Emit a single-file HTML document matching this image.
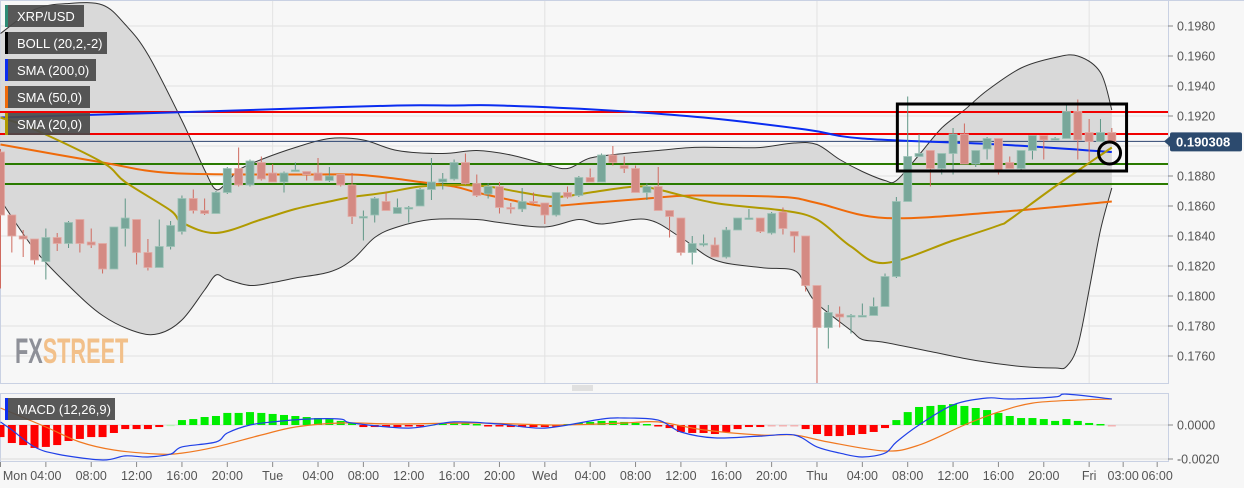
<!DOCTYPE html>
<html><head><meta charset="utf-8"><style>
html,body{margin:0;padding:0;background:#f7f7f7;}
svg{display:block;font-family:"Liberation Sans",Arial,sans-serif;}
</style></head><body>
<svg id="chart" width="1244" height="488" viewBox="0 0 1244 488">
<rect x="0" y="0" width="1244" height="488" fill="#f7f7f7"/>
<g id="grid"></g>
<g id="bands"></g>
<g id="levels"></g>
<g id="smas"></g>
<g id="candles"></g>
<g id="macd"></g>
<g id="axes"></g>
<g>
<text x="15" y="363" font-size="35" font-weight="bold" transform="translate(15 0) scale(0.62 1) translate(-15 0)"><tspan fill="#8e9098">FX</tspan><tspan fill="#f2c08a">STREET</tspan></text>
</g>
<g id="legend"></g>
</svg>
<script>
// ---- data ----
const opens  = [.1896,.1854,.1840,.1838,.1823,.1839,.1835,.1851,.1836,.1835,.1818,.1845,.1851,.1829,.1819,.1833,.1843,.1865,.1857,.1855,.1869,.1885,.1874,.1889,.1882,.1876,.1883,.1883,.1882,.1877,.1881,.1874,.1853,.1854,.1863,.1855,.1858,.1860,.1871,.1876,.1878,.1889,.1875,.1868,.1873,.1859,.1858,.1863,.1862,.1854,.1869,.1867,.1879,.1876,.1894,.1887,.1885,.1869,.1873,.1857,.1852,.1829,.1835,.1834,.1826,.1844,.1852,.1852,.1842,.1856,.1843,.1840,.1807,.1779,.1788,.1786,.1787,.1787,.1793,.1813,.1863,.1893,.1897,.1885,.1895,.1908,.1888,.1898,.1905,.1889,.1885,.1897,.1907,.1905,.1905,.1923,.1909,.1903,.1909];
const closes = [.1854,.1840,.1838,.1824,.1839,.1835,.1849,.1835,.1834,.1818,.1846,.1852,.1829,.1819,.1833,.1847,.1865,.1857,.1855,.1869,.1885,.1874,.1890,.1878,.1876,.1882,.1884,.1881,.1877,.1880,.1874,.1853,.1853,.1865,.1857,.1859,.1859,.1871,.1876,.1878,.1889,.1875,.1867,.1873,.1859,.1858,.1863,.1862,.1854,.1869,.1866,.1879,.1876,.1894,.1889,.1885,.1869,.1873,.1857,.1853,.1829,.1835,.1835,.1826,.1844,.1852,.1852,.1843,.1855,.1845,.1840,.1807,.1779,.1789,.1786,.1787,.1787,.1793,.1813,.1863,.1893,.1895,.1885,.1895,.1908,.1888,.1897,.1905,.1884,.1885,.1897,.1907,.1904,.1905,.1923,.1904,.1903,.1909,.1903];
const highs  = [.1898,.1854,.1844,.1838,.1845,.1842,.1850,.1851,.1845,.1835,.1846,.1865,.1851,.1838,.1851,.1850,.1867,.1871,.1865,.1870,.1886,.1899,.1891,.1893,.1888,.1883,.1889,.1883,.1892,.1886,.1881,.1882,.1857,.1866,.1869,.1865,.1860,.1872,.1892,.1882,.1891,.1895,.1881,.1875,.1876,.1862,.1872,.1869,.1862,.1869,.1873,.1880,.1885,.1895,.1900,.1893,.1887,.1875,.1886,.1857,.1852,.1840,.1841,.1839,.1846,.1852,.1858,.1852,.1856,.1859,.1843,.1840,.1807,.1794,.1793,.1788,.1795,.1799,.1815,.1866,.1933,.1908,.1897,.1895,.1912,.1915,.1897,.1906,.1905,.1893,.1897,.1907,.1907,.1906,.1927,.1931,.1918,.1918,.1912];
const lows   = [.1805,.1829,.1826,.1821,.1811,.1830,.1832,.1829,.1832,.1815,.1818,.1833,.1821,.1817,.1819,.1831,.1841,.1855,.1854,.1855,.1868,.1873,.1873,.1877,.1876,.1869,.1883,.1877,.1877,.1876,.1873,.1848,.1837,.1849,.1857,.1855,.1849,.1860,.1864,.1871,.1877,.1874,.1866,.1865,.1855,.1855,.1856,.1861,.1848,.1853,.1865,.1866,.1876,.1876,.1887,.1882,.1869,.1864,.1857,.1839,.1827,.1821,.1833,.1826,.1825,.1844,.1852,.1842,.1841,.1841,.1829,.1803,.1742,.1765,.1779,.1775,.1787,.1787,.1793,.1812,.1863,.1893,.1873,.1881,.1881,.1888,.1886,.1891,.1881,.1885,.1884,.1891,.1891,.1904,.1905,.1891,.1890,.1903,.1903];
const upperIdx = [0,3,6,9,11,13,16,18,19,20,21,23,26,29,32,35,39,42,45,48,50,52,55,58,61,64,67,70,72,74,76,78,79,81,83,85,87,90,93,95,97,98];
const upperVal = [.1975,.1991,.1995,.1994,.1981,.1961,.1917,.1884,.1871,.1876,.1884,.1891,.1899,.1905,.1904,.1897,.1895,.1897,.1894,.1888,.1885,.1892,.1895,.1897,.1899,.1899,.1899,.1902,.1901,.1891,.1883,.1877,.1877,.1894,.1912,.1924,.1937,.1952,.1959,.1960,.1949,.1924];
const lowerIdx = [0,3,6,9,12,14,16,18,19,20,22,24,26,29,31,33,35,38,42,44,48,51,53,57,60,63,67,70,71,72,75,76,78,82,86,90,93,94,95,96,97,98];
const lowerVal = [.1864,.1831,.1807,.1787,.1776,.1775,.1784,.1804,.1814,.1811,.1807,.1809,.1812,.1816,.1824,.1839,.1846,.1851,.1851,.1849,.1846,.1851,.1848,.1851,.1839,.1824,.1819,.1817,.1806,.1795,.1777,.1771,.1769,.1763,.1757,.1753,.1752,.1753,.1767,.1804,.1844,.1872];
const sma200Idx = [0,9,18,26,35,40,44,53,62,71,76,88,98];
const sma200Val = [.1919,.1921,.1923,.1925,.1927,.1927,.1927,.1924,.1919,.1911,.1905,.1901,.1896];
const sma50Idx = [0,9,15,26,31,34,37,40,42,45,48,52,57,61,69,72,78,88,98];
const sma50Val = [.1901,.1889,.1882,.1881,.1881,.1879,.1876,.1873,.1869,.1864,.1860,.1862,.1865,.1867,.1866,.1862,.1852,.1856,.1863];
const sma20Idx = [0,3,9,11,15,16,19,23,26,29,31,34,37,40,43,46,49,52,56,58,63,69,72,75,78,84,88,89,93,98];
const sma20Val = [.1919,.1911,.1889,.1876,.1857,.1849,.1842,.1851,.1858,.1863,.1866,.1869,.1873,.1874,.1873,.1869,.1866,.1869,.1873,.1871,.1862,.1857,.1851,.1833,.1822,.1837,.1847,.1851,.1873,.1899];
const levelVals = [.19227,.1908,.1888,.18747];
const levelColors = ["#f00000","#f00000","#2a7a00","#2a7a00"];
const lastPrice = 0.190308;
const priceTicks = [.1980,.1960,.1940,.1920,.1900,.1880,.1860,.1840,.1820,.1800,.1780,.1760];
// MACD values in units of 0.0001
const histVals = [-7.1,-10.6,-11.8,-13.5,-12.9,-11.8,-9.4,-8.2,-7.1,-7.1,-4.7,-2.4,-2.4,-2.4,-1.2,0.2,2.9,3.5,4.7,5.3,7.1,7.1,7.6,7.1,6.5,5.9,5.3,4.7,4.1,3.5,2.4,1.2,-1.2,-1.2,-1.2,-1.2,-0.6,-0.6,0.3,1.2,1.2,1.2,0.6,-0.6,-0.6,-1.2,-1.2,-1.2,-1.2,-0.6,0.6,1.2,1.8,2.4,2.4,1.8,1.2,0.6,-0.6,-1.8,-4.1,-4.7,-4.7,-5.3,-4.1,-2.4,-1.2,-1.2,-0.3,-0.3,-0.3,-2.4,-5.3,-6.5,-6.5,-5.9,-5.3,-4.1,-1.8,2.9,7.6,10.6,11.2,11.8,12.3,11.2,10,8.8,7.1,5.3,4.1,4.1,3.5,2.4,3.5,2.4,1.2,0.6,-0.3];
const macdIdx = [0,1,3,5,9,11,13,15,16,19,20,22,24,27,30,31,36,40,44,48,53,55,58,60,63,67,70,72,74,76,78,79,81,84,87,89,93,94,98];
const macdVal = [1.8,-2.9,-12.9,-17.1,-20.6,-18.2,-18.8,-17.1,-12.9,-10,-4.7,0,1.8,3.5,3.5,1.2,-1.8,1.8,0.6,-1.8,3.5,4.1,2.9,-4.1,-7.6,-6.5,-5.9,-12.9,-16.5,-18.8,-16.5,-10,0,11.8,15.9,15.3,16.5,18.2,15.3];
const signalIdx = [0,4,7,10,14,16,19,23,26,30,35,42,49,55,58,62,67,70,73,78,81,85,88,91,95,98];
const signalVal = [10,-1.2,-10,-14.7,-17.1,-16.5,-12.9,-5.9,-1.2,1.2,0.6,1.2,0,1.2,1.8,-2.9,-5.9,-5.9,-10,-15.3,-11.8,0,7.6,12.9,14.7,15.3];
const macdTicks = [0,-20];
const timeLabels = ["Mon","04:00","08:00","12:00","16:00","20:00","Tue","04:00","08:00","12:00","16:00","20:00","Wed","04:00","08:00","12:00","16:00","20:00","Thu","04:00","08:00","12:00","16:00","20:00","Fri","03:00","06:00"];
const timeHours  = [0,4,8,12,16,20,24,28,32,36,40,44,48,52,56,60,64,68,72,76,80,84,88,92,96,99,102];

// ---- scales ----
const NS="http://www.w3.org/2000/svg";
const X = h => 0.5 + 11.34*h;
const Y = p => 26 + (0.198 - p)*15000;
const MY = v => 425 - v*1.7;
function el(tag, attrs, parent){const e=document.createElementNS(NS,tag);for(const k in attrs)e.setAttribute(k,attrs[k]);parent.appendChild(e);return e;}
function smooth(idx, vals, fy){
  const pts=idx.map((i,k)=>[X(i),fy(vals[k])]);let d="M"+pts[0][0]+","+pts[0][1];
  for(let k=0;k<pts.length-1;k++){const p0=pts[Math.max(k-1,0)],p1=pts[k],p2=pts[k+1],p3=pts[Math.min(k+2,pts.length-1)];
    d+=" C"+(p1[0]+(p2[0]-p0[0])/6).toFixed(1)+","+(p1[1]+(p2[1]-p0[1])/6).toFixed(1)+" "+(p2[0]-(p3[0]-p1[0])/6).toFixed(1)+","+(p2[1]-(p3[1]-p1[1])/6).toFixed(1)+" "+p2[0].toFixed(1)+","+p2[1].toFixed(1);}
  return d;}

// grid
const grid=document.getElementById('grid');
priceTicks.forEach(p=>{const l=el('line',{x1:0,x2:1168,y1:Y(p),y2:Y(p),stroke:"#e2e2e2","stroke-width":1},grid);

});
[24,48,72,96].forEach(h=>{const l=el('line',{x1:X(h),x2:X(h),y1:0,y2:462,stroke:"#e2e2e2","stroke-width":1},grid);

});
el('rect',{x:0.5,y:0.5,width:1168,height:383,fill:"none",stroke:"#c9d1e3"},grid);
el('rect',{x:0.5,y:393.5,width:1168,height:68,fill:"none",stroke:"#c9d1e3"},grid);
el('line',{x1:0,x2:1244,y1:0.5,y2:0.5,stroke:"#c9d1e3"},grid);

// bands
const bands=document.getElementById('bands');
const up=smooth(upperIdx,upperVal,Y);
const lowRev=lowerIdx.slice().reverse(), lowValRev=lowerVal.slice().reverse();
const lo=smooth(lowRev,lowValRev,Y);
const fill=el('path',{d:up+" L"+lo.slice(1)+" Z",fill:"#d9d9d9",stroke:"none"},bands);


const ub=el('path',{d:up,fill:"none",stroke:"#333","stroke-width":1},bands);


const lb=el('path',{d:smooth(lowerIdx,lowerVal,Y),fill:"none",stroke:"#333","stroke-width":1},bands);



// levels
const lv=document.getElementById('levels');
levelVals.forEach((v,k)=>{const l=el('line',{x1:0,x2:1168,y1:Y(v),y2:Y(v),stroke:levelColors[k],"stroke-width":2},lv);

});
const lp=el('line',{x1:0,x2:1168,y1:Y(lastPrice),y2:Y(lastPrice),stroke:"#2c4470","stroke-width":1},lv);



// SMAs
const sm=document.getElementById('smas');
const s200=el('path',{d:smooth(sma200Idx,sma200Val,Y),fill:"none",stroke:"#0a2cf0","stroke-width":2},sm);


const s50=el('path',{d:smooth(sma50Idx,sma50Val,Y),fill:"none",stroke:"#ef6a0a","stroke-width":2},sm);


const s20=el('path',{d:smooth(sma20Idx,sma20Val,Y),fill:"none",stroke:"#b09a00","stroke-width":2},sm);



// candles
const cg=document.getElementById('candles');
opens.forEach((o,i)=>{const c=closes[i],up=c>=o,col=up?"#78a79a":"#d48a83",wc=up?"#5f9686":"#cf6a5f";
  const x=X(i);
  const w=el('line',{x1:x,x2:x,y1:Y(highs[i]),y2:Y(lows[i]),stroke:wc,"stroke-width":1},cg);
  
  
  const top=Y(Math.max(o,c)),h=Math.max(1.5,Math.abs(Y(o)-Y(c)));
  const b=el('rect',{x:x-4,y:top,width:8,height:h,fill:col,stroke:up?"#9cc2b6":"#e3aaa4","stroke-width":0.8},cg);
  
  });
// annotation box and circle
const bx=el('rect',{x:X(79)+1,y:104,width:X(99.3)-X(79)-1,height:67,fill:"none",stroke:"#000","stroke-width":3},cg);


const ci=el('circle',{cx:X(97.8),cy:Y(sma200Val[sma200Val.length-1])+1,r:11,fill:"none",stroke:"#000","stroke-width":3},cg);



// MACD
const mg=document.getElementById('macd');
el('rect',{x:1,y:394,width:1167,height:67,fill:"#f5f5f5"},mg);
el('line',{x1:0,x2:1168,y1:MY(0),y2:MY(0),stroke:"#dcdcdc"},mg);
el('line',{x1:0,x2:1168,y1:MY(-20),y2:MY(-20),stroke:"#dcdcdc"},mg);
histVals.forEach((v,i)=>{const x=X(i),y0=MY(0),y1=MY(v);
  const pale=Math.abs(v)<0.5;
  const b=el('rect',{x:x-4,y:Math.min(y0,y1),width:8,height:Math.max(1.5,Math.abs(y1-y0)),fill:v>=0?(pale?"#b7f5b7":"#00ee00"):(pale?"#f2b3b3":"#ff0000")},mg);
  
  });
const sig=el('path',{d:smooth(signalIdx,signalVal,MY),fill:"none",stroke:"#f07820","stroke-width":1.2},mg);


const ml=el('path',{d:smooth(macdIdx,macdVal,MY),fill:"none",stroke:"#2040e8","stroke-width":1.2},mg);


// panel handle
el('rect',{x:0,y:384,width:1168,height:9,fill:"#f7f7f7"},mg);
[386,388,390].forEach(y=>el('line',{x1:572,x2:593,y1:y,y2:y,stroke:"#999","stroke-width":0.6},mg));

// axes
const ax=document.getElementById('axes');
priceTicks.forEach(p=>{el('line',{x1:1168,x2:1173,y1:Y(p),y2:Y(p),stroke:"#888"},ax);
  const t=el('text',{x:1177,y:Y(p)+4.5,"font-size":12.5,fill:"#555"},ax);t.textContent=p.toFixed(4);
  
  });
const tag=el('rect',{x:1170,y:Y(lastPrice)-9,width:72,height:19,fill:"#2c4a6e",rx:2},ax);


el('path',{d:`M1164,${Y(lastPrice)} L1171,${Y(lastPrice)-6} L1171,${Y(lastPrice)+6} Z`,fill:"#2c4a6e"},ax);
const tt=el('text',{x:1176,y:Y(lastPrice)+5,"font-size":13,"font-weight":"bold",fill:"#fff"},ax);tt.textContent=lastPrice.toFixed(6);
macdTicks.forEach(v=>{el('line',{x1:1168,x2:1173,y1:MY(v),y2:MY(v),stroke:"#888"},ax);
  const t=el('text',{x:1177,y:MY(v)+4.5,"font-size":12.5,fill:"#555"},ax);t.textContent=(v*1e-4).toFixed(4);
  
  });
timeLabels.forEach((s,k)=>{const x=X(timeHours[k]);
  el('line',{x1:x,x2:x,y1:462,y2:467,stroke:"#888"},ax);
  const t=el('text',{x:k===0?Math.max(x,15):x,y:480,"font-size":12.5,fill:"#555","text-anchor":"middle"},ax);t.textContent=s;
  
  });

// legend
const lg=document.getElementById('legend');
const items=[["XRP/USD","#2e8b75",79],["BOLL (20,2,-2)","#000",102],["SMA (200,0)","#0a2cf0",91],["SMA (50,0)","#ef6a0a",85],["SMA (20,0)","#b09a00",85]];
items.forEach((it,k)=>{const y=5+k*27;
  const r=el('rect',{x:5,y:y,width:it[2],height:22,fill:"#4a4a4a","fill-opacity":0.92},lg);
  
  
  el('rect',{x:5,y:y,width:3,height:22,fill:it[1]},lg);
  const t=el('text',{x:17,y:y+16,"font-size":13,fill:"#fff"},lg);t.textContent=it[0];});
const mr=el('rect',{x:5,y:398,width:110,height:22,fill:"#4a4a4a","fill-opacity":0.92},lg);


el('rect',{x:5,y:398,width:3,height:22,fill:"#0a2cf0"},lg);
const mt=el('text',{x:17,y:414,"font-size":13,fill:"#fff"},lg);mt.textContent="MACD (12,26,9)";
</script>
</body></html>
